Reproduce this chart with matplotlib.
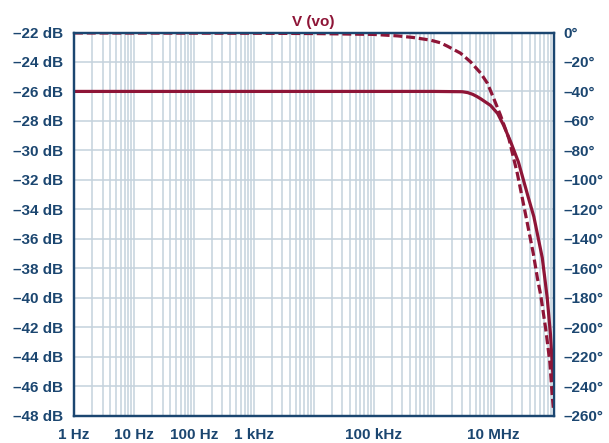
import matplotlib
matplotlib.use('Agg')
import matplotlib.pyplot as plt
from matplotlib.ticker import FixedLocator, NullFormatter

# data
freq_mag = [1, 1e3, 1e6, 3e6, 3.7e6, 4.5e6, 5.3e6, 6.1e6, 8.9e6, 1.17e7, 1.47e7, 1.92e7, 2.6e7,
            3.8e7, 4.7e7, 5.4e7, 6.5e7, 7.85e7, 8.9e7, 9.7e7, 1e8]
mag_db = [-26.0, -26.0, -26.0, -26.02, -26.08, -26.2, -26.35, -26.5, -26.95, -27.5, -28.3, -29.4, -30.8,
          -33.2, -34.5, -35.7, -37.3, -40.0, -42.5, -45.0, -45.7]

freq_ph = [1, 1e3, 1e4, 1e5, 2.5e5, 4.6e5, 8.9e5, 1.3e6, 1.7e6, 2.8e6, 4.1e6, 6.1e6, 7.9e6, 1e7,
           1.3e7, 1.8e7, 2.5e7, 3.4e7, 4.6e7, 5.4e7, 6.1e7, 7.4e7, 8.7e7, 9.5e7, 1e8]
phase_deg = [-0.3, -0.5, -0.7, -1.3, -2.3, -3.4, -5.2, -7.0, -9.3, -14.0, -19.8, -27.6, -34.5, -44.5,
             -56, -72, -96, -123, -150, -167, -178, -201, -224, -246, -256]

x_ticks = [1, 10, 100, 1e3, 1e4, 1e5, 1e6, 1e7, 1e8]
x_labels = ['1 Hz', '10 Hz', '100 Hz', '1 kHz', '', '100 kHz', '', '10 MHz', '']
db_ticks = list(range(-48, -21, 2))
deg_ticks = list(range(-260, 1, 20))

navy = '#1b4670'
red = '#8e1537'
grid_c = '#c4d2dd'

plt.rcParams['font.family'] = ['Liberation Sans', 'DejaVu Sans']
plt.rcParams['font.weight'] = 'bold'
plt.rcParams['font.size'] = 11

fig = plt.figure(figsize=(6.09, 4.43), dpi=100)
ax = fig.add_axes([74 / 609, 1 - 415.5 / 443, (553.5 - 74) / 609, (415.5 - 32.5) / 443])
ax2 = ax.twinx()

ax.set_xscale('log')
ax.set_xlim(1, 1e8)
ax.set_ylim(-48, -22)
ax2.set_ylim(-260, 0)

ax.xaxis.set_major_locator(FixedLocator(x_ticks))
ax.xaxis.set_minor_locator(FixedLocator([d * m for d in x_ticks[:-1] for m in range(2, 10)]))
ax.xaxis.set_minor_formatter(NullFormatter())
ax.set_xticklabels(x_labels)
ax.set_yticks(db_ticks)
ax.set_yticklabels(['\u2013%d dB' % -v for v in db_ticks])
ax2.set_yticks(deg_ticks)
ax2.set_yticklabels([('\u2013%d\u00b0' % -v) if v else '0\u00b0' for v in deg_ticks])

ax.grid(True, which='both', axis='x', color=grid_c, lw=1.1)
ax.grid(True, which='major', axis='y', color=grid_c, lw=1.1)

ax.tick_params(which='both', length=0, colors=navy)
ax.tick_params(axis='y', pad=8)
ax.tick_params(axis='x', pad=9)
ax2.tick_params(length=0, colors=navy, pad=7)

for a in (ax, ax2):
    for s in a.spines.values():
        s.set_color(navy)
        s.set_linewidth(1.6)

ax.plot(freq_mag, mag_db, color=red, lw=2.3, solid_capstyle='butt', solid_joinstyle='round')
ax2.plot(freq_ph, phase_deg, color=red, lw=2.3, dashes=(2.8, 1.2))

ax.set_title('V (vo)', color=red, fontsize=11, fontweight='bold', pad=5)

fig.savefig('out.png', dpi=100)
